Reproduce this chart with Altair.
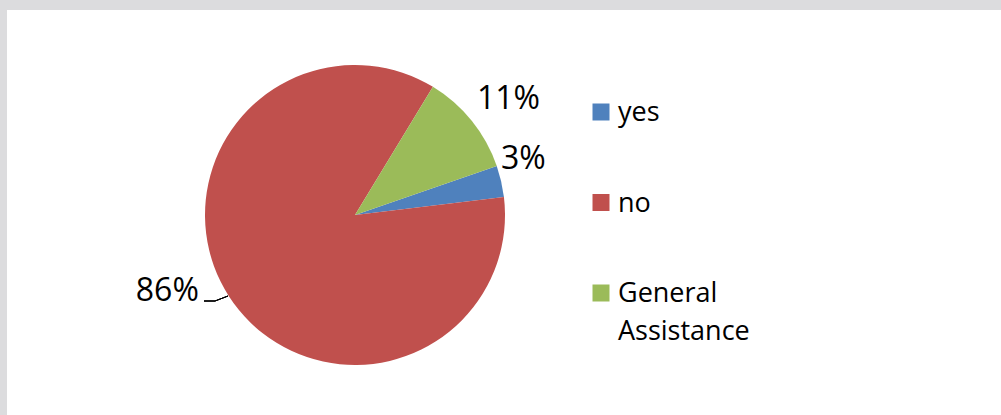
import math
import altair as alt
import pandas as pd

categories = ["yes", "no", "General Assistance"]
values = [3.4, 85.6, 11.0]
pct_labels = ["3%", "86%", "11%"]
legend_labels = ["yes", "no", "General\nAssistance"]
colors = ["#4F81BD", "#C0504D", "#9BBB59"]

df = pd.DataFrame({
    "cat": categories,
    "value": values,
    "pct": pct_labels,
    "legend": legend_labels,
    "idx": list(range(len(categories))),
})

CX, CY, R = 348, 205, 150
FONT = "Open Sans"
start = math.radians(70.9)
theta_scale = alt.Scale(domain=[0, 100], range=[start, start + 2 * math.pi])
color_scale = alt.Scale(domain=categories, range=colors)

base = alt.Chart(df)

pie = base.mark_arc(outerRadius=R).encode(
    theta=alt.Theta("value:Q", stack=True, scale=theta_scale),
    color=alt.Color("cat:N", scale=color_scale, legend=None),
    order=alt.Order("idx:Q"),
    x=alt.value(CX),
    y=alt.value(CY),
)


def pct_layer(cat, radius, dx, dy):
    return (
        base.transform_window(cum="sum(value)", sort=[alt.SortField("idx")], frame=[None, 0])
        .transform_calculate(mid="datum.cum - datum.value / 2")
        .transform_filter(alt.datum.cat == cat)
        .mark_text(radius=radius, dx=dx, dy=dy, fontSize=32, font=FONT, color="black",
                   align="center", baseline="middle")
        .encode(
            theta=alt.Theta("mid:Q", scale=theta_scale),
            x=alt.value(CX),
            y=alt.value(CY),
            text="pct:N",
        )
    )


lbl_yes = pct_layer("yes", 178, -5, -16)
lbl_no = pct_layer("no", 203, -17, -34)
lbl_ga = pct_layer("General Assistance", 192, 4, 5)

leader1 = alt.Chart(df).mark_rule(color="black", strokeWidth=1).encode(
    x=alt.value(197), x2=alt.value(208), y=alt.value(291), y2=alt.value(291)
)
leader2 = alt.Chart(df).mark_rule(color="black", strokeWidth=1).encode(
    x=alt.value(208), x2=alt.value(221), y=alt.value(291), y2=alt.value(286)
)

leg_y = alt.Y("cat:N", scale=alt.Scale(type="point", domain=categories, range=[102, 283], padding=0), axis=None)

leg_sq = base.mark_square(size=289, opacity=1).encode(
    x=alt.value(594),
    y=leg_y,
    color=alt.Color("cat:N", scale=color_scale, legend=None),
)
leg_txt = base.mark_text(align="left", baseline="alphabetic", dy=9, fontSize=27, font=FONT,
                         color="black", lineBreak="\n", lineHeight=38).encode(
    x=alt.value(611),
    y=leg_y,
    text="legend:N",
)

chart = (
    alt.layer(pie, lbl_yes, lbl_no, lbl_ga, leader1, leader2, leg_sq, leg_txt)
    .properties(
        width=994,
        height=405,
        padding={"left": 7, "top": 10, "right": 0, "bottom": 0},
        autosize=alt.AutoSizeParams(type="none"),
        background="#dcdcde",
    )
    .configure_view(fill="white", stroke=None)
)

chart.save("out.html", embed_options={"renderer": "svg", "actions": False})
